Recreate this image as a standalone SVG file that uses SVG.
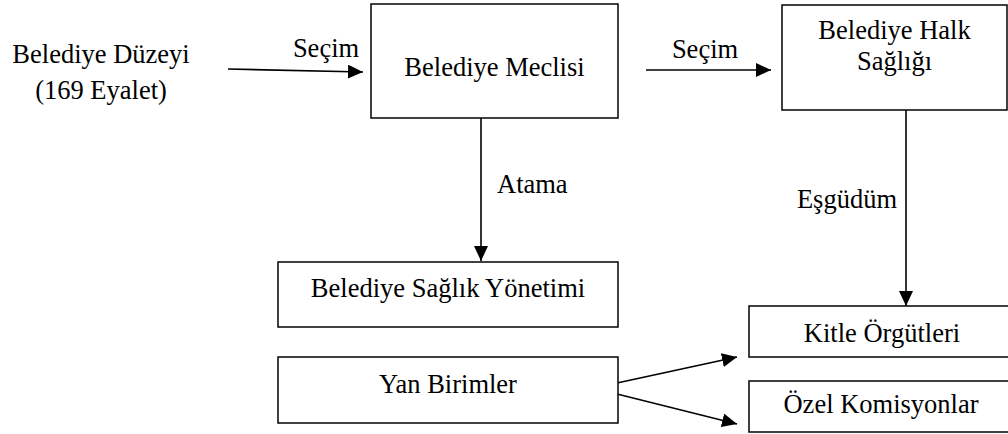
<svg xmlns="http://www.w3.org/2000/svg" width="1008" height="434" viewBox="0 0 1008 434">
<style>
.c{text-anchor:middle;}
.box{fill:#fff;stroke:#111;stroke-width:1.6;}
.ln{stroke:#000;stroke-width:1.6;fill:none;}
</style>
<defs>
<marker id="ah" markerUnits="userSpaceOnUse" markerWidth="16" markerHeight="14" refX="15" refY="7" orient="auto">
<path d="M0,0 L15,7 L0,14 z" fill="#000"/>
</marker>
</defs>
<rect width="1008" height="434" fill="#fff"/>
<g id="connectors">
<line class="ln" x1="228" y1="69" x2="363" y2="72" marker-end="url(#ah)"/>
<line class="ln" x1="646" y1="70" x2="771" y2="70" marker-end="url(#ah)"/>
<line class="ln" x1="481" y1="118" x2="481" y2="261" marker-end="url(#ah)"/>
<line class="ln" x1="906" y1="110" x2="906" y2="306" marker-end="url(#ah)"/>
<line class="ln" x1="617" y1="383" x2="737" y2="357" marker-end="url(#ah)"/>
<line class="ln" x1="617" y1="394" x2="737" y2="424" marker-end="url(#ah)"/>
<text x="326" y="57" text-anchor="middle" font-family="Liberation Serif" font-size="26.5">Seçim</text>
<text x="705" y="58" text-anchor="middle" font-family="Liberation Serif" font-size="26.5">Seçim</text>
<text x="497" y="193" font-family="Liberation Serif" font-size="26.5">Atama</text>
<text x="897" y="208" text-anchor="end" font-family="Liberation Serif" font-size="26.5">Eşgüdüm</text>
</g>
<g id="n-duzey">
<text x="101" y="63" text-anchor="middle" font-family="Liberation Serif" font-size="26.5">Belediye Düzeyi</text>
<text x="101" y="99" text-anchor="middle" font-family="Liberation Serif" font-size="26.5">(169 Eyalet)</text>
</g>
<g id="n-meclis">
<rect class="box" x="371" y="4" width="247" height="114"/>
<text x="494.5" y="76" text-anchor="middle" font-family="Liberation Serif" font-size="26.5">Belediye Meclisi</text>
</g>
<g id="n-halk">
<rect class="box" x="782" y="5" width="225" height="105"/>
<text x="894.5" y="39" text-anchor="middle" font-family="Liberation Serif" font-size="26.5">Belediye Halk</text>
<text x="894.5" y="70" text-anchor="middle" font-family="Liberation Serif" font-size="26.5">Sağlığı</text>
</g>
<g id="n-yonetim">
<rect class="box" x="278" y="262" width="340" height="65"/>
<text x="448" y="297" text-anchor="middle" font-family="Liberation Serif" font-size="26.5">Belediye Sağlık Yönetimi</text>
</g>
<g id="n-yan">
<rect class="box" x="278" y="357" width="340" height="66"/>
<text x="448" y="393" text-anchor="middle" font-family="Liberation Serif" font-size="26.5">Yan Birimler</text>
</g>
<g id="n-kitle">
<rect class="box" x="749" y="306" width="270" height="51"/>
<text x="882" y="342" text-anchor="middle" font-family="Liberation Serif" font-size="26.5">Kitle Örgütleri</text>
</g>
<g id="n-ozel">
<rect class="box" x="749" y="381" width="270" height="51"/>
<text x="881" y="413" text-anchor="middle" font-family="Liberation Serif" font-size="26.5">Özel Komisyonlar</text>
</g>
</svg>
